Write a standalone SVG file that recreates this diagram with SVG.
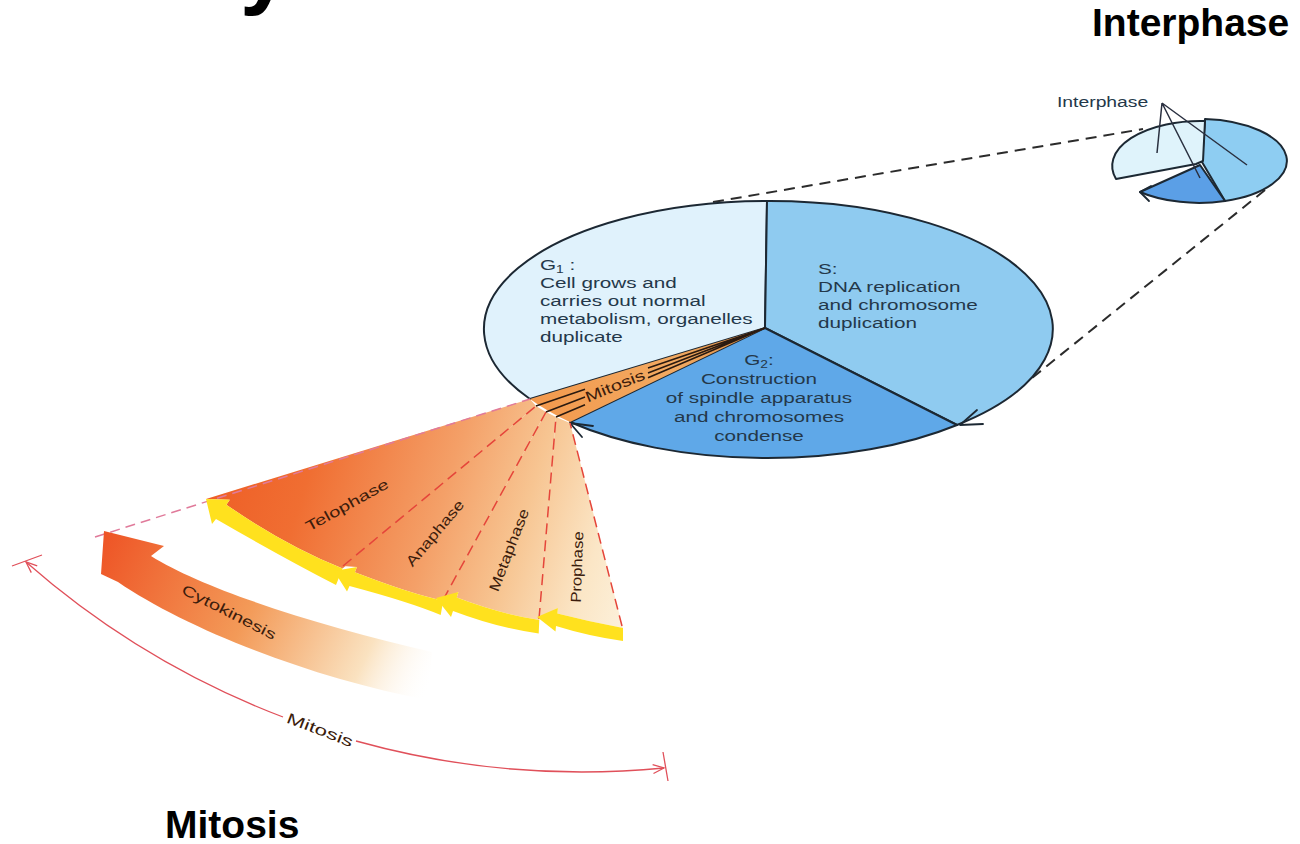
<svg xmlns="http://www.w3.org/2000/svg" width="1300" height="844" viewBox="0 0 1300 844">
<style>
.pie{stroke:#1c2833;stroke-width:2;stroke-linejoin:round}
.ptxt{font-family:"Liberation Sans",Arial,sans-serif;font-size:15px;fill:#24384a}
.ftxt{font-family:"Liberation Sans",Arial,sans-serif;font-size:14.5px;fill:#3b1c0c}
.big{font-family:"Liberation Sans",Arial,sans-serif;font-weight:bold;font-size:39px;fill:#000}
.dash{fill:none;stroke:#2b2b2b;stroke-width:2;stroke-dasharray:11 7}
.red{fill:none;stroke:#E5453A;stroke-width:1.5;stroke-dasharray:11 6}
.blk{fill:none;stroke:#2a1a10;stroke-width:1.6}
.yel{fill:#FFE11E}
.ahd{fill:none;stroke:#1c2833;stroke-width:1.8;stroke-linecap:round;stroke-linejoin:round}
.arc{fill:none;stroke:#E0505A;stroke-width:1.3}
.lead{stroke:#2a3040;stroke-width:1.5;fill:none}
</style>
<defs>
<linearGradient id="fanG" gradientUnits="userSpaceOnUse" x1="210" y1="470" x2="625" y2="600">
<stop offset="0" stop-color="#EE5E26"/>
<stop offset="0.22" stop-color="#F06E32"/>
<stop offset="0.53" stop-color="#F4A068"/>
<stop offset="0.72" stop-color="#F7C592"/>
<stop offset="0.9" stop-color="#FBE6C6"/>
<stop offset="1" stop-color="#FCEFD8"/>
</linearGradient>
<linearGradient id="stripG" gradientUnits="userSpaceOnUse" x1="540" y1="410" x2="765" y2="328">
<stop offset="0" stop-color="#F39A4E"/>
<stop offset="0.6" stop-color="#F2AA62"/>
<stop offset="1" stop-color="#D98A40"/>
</linearGradient>
<linearGradient id="cytoG" gradientUnits="userSpaceOnUse" x1="105" y1="535" x2="430" y2="690">
<stop offset="0" stop-color="#EE5526"/>
<stop offset="0.45" stop-color="#F39A58"/>
<stop offset="0.8" stop-color="#FAE2C0"/>
<stop offset="1" stop-color="#FFFFFF" stop-opacity="0"/>
</linearGradient>
<marker id="ah" viewBox="-12 -6 14 12" refX="0" refY="0" markerWidth="14" markerHeight="12" markerUnits="userSpaceOnUse" orient="auto-start-reverse">
<path d="M-11,-4.5 L0,0 L-11,4.5" fill="none" stroke="#E0505A" stroke-width="1.3"/>
</marker>
</defs>

<text class="big" x="240" y="-3" style="font-size:90px">y</text>
<text class="big" x="1092" y="36">Interphase</text>
<text class="big" x="165" y="838">Mitosis</text>

<g id="connectors">
<path class="dash" d="M713,202 L1143,129"/>
<path class="dash" d="M1265,190 L1032,378"/>
</g>

<g id="small-pie">
<path class="pie" fill="#8ECDF2" stroke-width="1.6" d="M1202,162 L1205,119 A88,42 0 0 1 1225,201 Z"/>
<path class="pie" fill="#5B9FE6" stroke-width="1.6" d="M1200,165 L1225,201 A88,42 0 0 1 1140,192 Z"/>
<path class="pie" fill="#DFF3FB" stroke-width="1.6" d="M1196,164 L1116,179 A88,45 0 0 1 1205,121 L1203,161 Z"/>
<polyline class="ahd" points="1151,186 1140,192 1149,201"/>
<path class="lead" d="M1162,103 L1157,153 M1162,103 L1200,178 M1162,103 L1247,165"/>
<text class="ptxt" style="font-size:14px" transform="translate(1057,0) scale(1.38,1)" x="0" y="107" fill="#2d3540">Interphase</text>
</g>

<g id="pie">
<path id="G1" class="pie" fill="#E0F2FC" d="M765,328 L530,399 A283,128 0 0 1 767,201 Z"/>
<path id="S" class="pie" fill="#8FCBF0" d="M765,328 L767,201 A283,128 0 0 1 957,425 Z"/>
<path id="G2" class="pie" fill="#5FA8E8" d="M765,328 L957,425 A283,128 0 0 1 570,422 Z"/>
<polyline class="ahd" points="977,410 960,425 983,424"/>
<polyline class="ahd" points="593,426 570,423 582,437"/>
<g transform="translate(540,0) scale(1.38,1)">
<text class="ptxt" x="0" y="270">G<tspan style="font-size:10px" dy="3">1</tspan><tspan dy="-3"> :</tspan></text>
<text class="ptxt" x="0" y="288">Cell grows and</text>
<text class="ptxt" x="0" y="306">carries out normal</text>
<text class="ptxt" x="0" y="324">metabolism, organelles</text>
<text class="ptxt" x="0" y="342">duplicate</text>
</g>
<g transform="translate(818,0) scale(1.38,1)">
<text class="ptxt" x="0" y="274">S:</text>
<text class="ptxt" x="0" y="292">DNA replication</text>
<text class="ptxt" x="0" y="310">and chromosome</text>
<text class="ptxt" x="0" y="328">duplication</text>
</g>
<g transform="translate(759,0) scale(1.38,1)" text-anchor="middle">
<text class="ptxt" x="0" y="365">G<tspan style="font-size:10px" dy="3">2</tspan><tspan dy="-3">:</tspan></text>
<text class="ptxt" x="0" y="384">Construction</text>
<text class="ptxt" x="0" y="403">of spindle apparatus</text>
<text class="ptxt" x="0" y="422">and chromosomes</text>
<text class="ptxt" x="0" y="441">condense</text>
</g>
</g>

<g id="mitosis-fan">
<path fill="url(#stripG)" d="M765,328 L530,399 A283,128 0 0 0 570,422 Z"/>
<path fill="url(#fanG)" d="M530,399 L206,499 L229.8,499.7 L226.4,504.7 Q285.3,545.6 342.6,568.5 L536,406 Z"/>
<path fill="url(#fanG)" d="M536,406 L343,566 L356.9,567 L354.9,572.2 Q411.5,594.1 443.3,600.6 L546,412 Z"/>
<path fill="url(#fanG)" d="M546,412 L443,600 L458.4,591.9 L456.8,597.6 Q500,614 539.3,620 L556,417 Z"/>
<path fill="url(#fanG)" d="M556,417 L539,619 L557.9,608.1 L557.4,613.6 Q590,622 623,628 L570,423 Z"/>
<path fill="none" stroke="#E07A9A" stroke-width="1.5" stroke-dasharray="10 6" d="M95,537 L530,399"/>
<path class="red" d="M343,566 L536,406"/>
<path class="red" d="M443,600 L546,412"/>
<path class="red" d="M539,619 L556,417"/>
<path class="red" d="M622,626 L570,423"/>
<path class="yel" d="M206,499 L229.8,499.7 L226.4,504.7 Q285.3,545.6 342.6,568.5 L336,585 Q280,556 216,519 L212,524 Z"/>
<path class="yel" d="M334,571 L356.9,567 L354.9,572.2 Q411.5,594.1 443.3,600.6 L440.7,615 Q409.7,602 349.5,586 L347,591.5 Z"/>
<path class="yel" d="M436,598 L458.4,591.9 L456.8,597.6 Q500,614 539.3,620 L538.7,633.5 Q498,628 453,611 L451,617 Z"/>
<path class="yel" d="M537,617 L557.9,608.1 L557.4,613.6 Q590,622 623,628 L623,641 Q588,636 556,626 L555.5,631.5 Z"/>
<path class="blk" d="M536,406 L585,389.3 M546,412 L585,397 M556,417 L585,404.7 M648,367.9 L765,328 M648,372.9 L765,328 M648,377.8 L765,328"/>
<text class="ftxt" style="font-size:15px" text-anchor="middle" transform="translate(615,386) rotate(-22) scale(1.35,1)" x="0" y="5">Mitosis</text>
<text class="ftxt" text-anchor="middle" transform="translate(347,505) rotate(-29) scale(1.4,1)" x="0" y="5">Telophase</text>
<text class="ftxt" text-anchor="middle" transform="translate(435,533) rotate(-50) scale(1.25,1)" x="0" y="5">Anaphase</text>
<text class="ftxt" text-anchor="middle" transform="translate(509,550) rotate(-69) scale(1.22,1)" x="0" y="5">Metaphase</text>
<text class="ftxt" text-anchor="middle" transform="translate(577,567) rotate(-88) scale(1.15,1)" x="0" y="5">Prophase</text>
</g>

<g id="cytokinesis">
<path fill="url(#cytoG)" d="M104,531 L164,546 L151,556 C205,590 320,626 432,652 L428,700 C310,678 185,628 118,582 L101,574 Z"/>
<text class="ftxt" text-anchor="middle" transform="translate(229,612) rotate(27) scale(1.4,1)" x="0" y="5">Cytokinesis</text>
</g>

<g id="mitosis-span">
<path class="arc" marker-start="url(#ah)" d="M26,562 A846,846 0 0 0 283,717"/>
<path class="arc" marker-end="url(#ah)" d="M356,741 A846,846 0 0 0 664,768"/>
<path class="arc" d="M12,566 L42,555 M663,752 L668,781"/>
<text class="ftxt" style="font-size:15px" fill="#2d3540" text-anchor="middle" transform="translate(320,730) rotate(21) scale(1.5,1)" x="0" y="5">Mitosis</text>
</g>
</svg>
